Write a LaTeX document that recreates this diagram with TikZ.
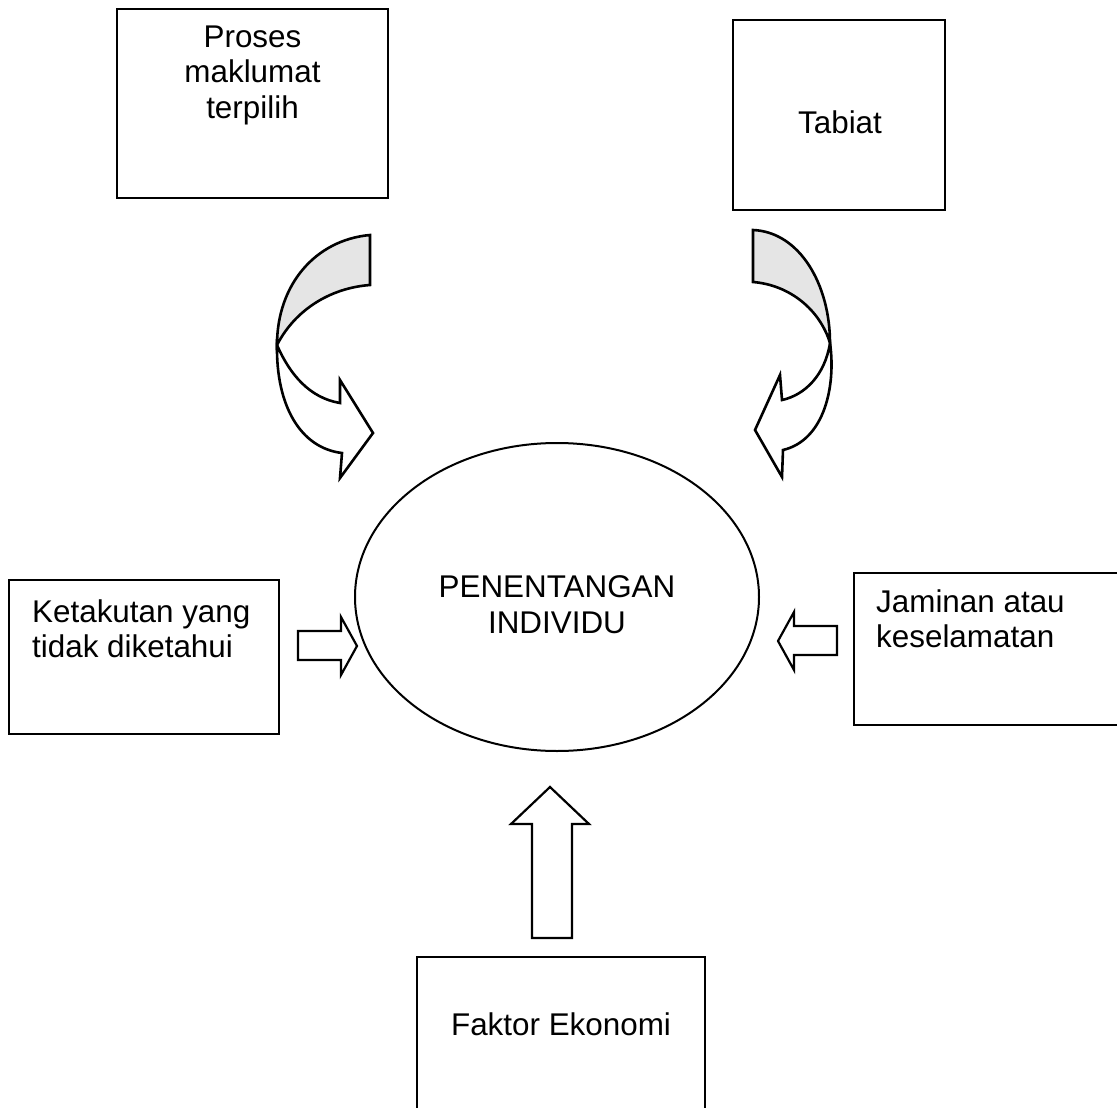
\documentclass[tikz,border=0pt]{standalone}
\usepackage{fontspec}
\setmainfont{Liberation Sans}
\usepackage{tikz}
\usetikzlibrary{shapes.geometric}

\begin{document}
\begin{tikzpicture}[x=1pt,y=-1pt,
        kotak/.style={draw, line width=2.6pt, inner sep=0pt},
        teks/.style={inner sep=0pt, font=\fontsize{31.4}{35.5}\selectfont},
        anakpanah/.style={draw, line width=2.2pt, line join=miter, fill=white},
        lengkung/.style={draw, line width=2.6pt, line join=miter}]
        % Fix the page size
        \useasboundingbox (0,0) rectangle (1117,1108);
        \clip (0,0) rectangle (1117,1108);

        % Draw the boxes
        \node[kotak, minimum width=271pt, minimum height=189pt] (proses) at (252.5,103.5) {};
        \node[kotak, minimum width=212pt, minimum height=190pt] (tabiat) at (839,115) {};
        \node[kotak, minimum width=270pt, minimum height=154pt] (takut) at (144,657) {};
        \node[kotak, minimum width=276pt, minimum height=152pt] (jaminan) at (992,649) {};
        \node[kotak, minimum width=288pt, minimum height=168pt] (ekonomi) at (561,1041) {};

        % Draw the centre ellipse
        \node[ellipse, draw, line width=2pt, minimum width=404pt, minimum height=308pt, inner sep=0pt] (pusat) at (557,597) {};

        % Label the boxes
        \node[teks, anchor=north, align=center] (tproses) at (252.5,25.5) {Proses\\maklumat\\terpilih};
        \node[teks, anchor=base] (ttabiat) at (840,133) {Tabiat};
        \node[teks, anchor=north west, align=left] (ttakut) at (32,599.5) {Ketakutan yang\\tidak diketahui};
        \node[teks, anchor=north west, align=left] (tjaminan) at (876,589.5) {Jaminan atau\\keselamatan};
        \node[teks, anchor=base] (tekonomi) at (561,1035) {Faktor Ekonomi};
        \node[teks, anchor=north, align=center] (tpusat) at (557,575.5) {PENENTANGAN\\INDIVIDU};

        % Draw the curved arrow on the left
        \path[lengkung, fill=black!10] (370,235) -- (370,285)
            .. controls (330,288) and (295,310) .. (277,345)
            .. controls (277,285) and (315,240) .. (370,235) -- cycle;
        \path[lengkung, fill=white] (277,345)
            .. controls (276,405) and (300,448) .. (342,453)
            -- (340,478) -- (373,433) -- (340,380) -- (340,403)
            .. controls (310,398) and (290,375) .. (277,345) -- cycle;

        % Draw the curved arrow on the right
        \path[lengkung, fill=black!10] (753,230) -- (753,282)
            .. controls (790,285) and (820,310) .. (830,343)
            .. controls (830,285) and (800,232) .. (753,230) -- cycle;
        \path[lengkung, fill=white] (830,343)
            .. controls (836,385) and (825,440) .. (783,450)
            -- (782,477) -- (755,430) -- (780,375) -- (782,400)
            .. controls (805,395) and (825,375) .. (830,343) -- cycle;

        % Draw the straight arrows
        \path[anakpanah] (298,631) -- (341,631) -- (341,617) -- (357,646)
            -- (341,675) -- (341,660) -- (298,660) -- cycle;
        \path[anakpanah] (837,626) -- (794,626) -- (794,612) -- (778,641)
            -- (794,670) -- (794,655) -- (837,655) -- cycle;
        \path[anakpanah] (532,938) -- (532,824) -- (511,824) -- (550,787)
            -- (589,824) -- (572,824) -- (572,938) -- cycle;
    \end{tikzpicture}
\end{document}
